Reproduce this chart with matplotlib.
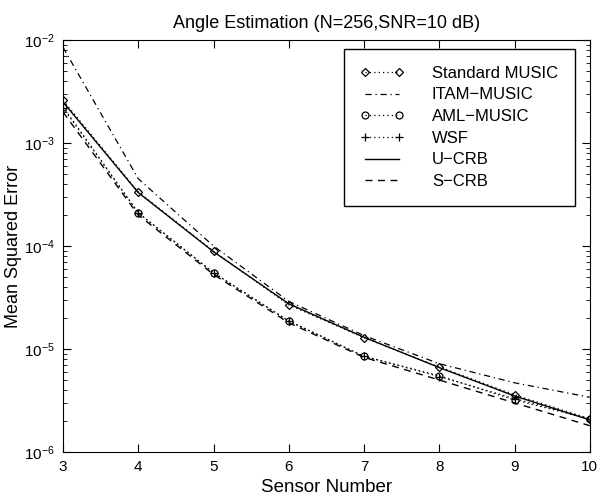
import numpy as np
import matplotlib.pyplot as plt

plt.rcParams['font.family'] = ['Liberation Sans', 'DejaVu Sans']

sensors = np.array([3, 4, 5, 6, 7, 8, 9, 10])

# values
std_music = [2.6e-3, 3.35e-4, 8.9e-5, 2.68e-5, 1.29e-5, 6.7e-6, 3.6e-6, 2.1e-6]
itam_music = [8.5e-3, 4.5e-4, 1.0e-4, 2.9e-5, 1.35e-5, 7.2e-6, 4.7e-6, 3.4e-6]
aml_music = [2.25e-3, 2.1e-4, 5.5e-5, 1.87e-5, 8.5e-6, 5.5e-6, 3.2e-6, 2.1e-6]
wsf = [2.2e-3, 2.1e-4, 5.5e-5, 1.87e-5, 8.5e-6, 5.4e-6, 3.3e-6, 2.1e-6]
u_crb = [2.5e-3, 3.3e-4, 8.8e-5, 2.75e-5, 1.3e-5, 6.6e-6, 3.5e-6, 2.05e-6]
s_crb = [2.0e-3, 2.0e-4, 5.3e-5, 1.8e-5, 8.3e-6, 5.0e-6, 3.0e-6, 1.8e-6]

fig = plt.figure(figsize=(6, 4.94), dpi=100)
ax = fig.add_axes([0.105, 0.085, 0.878, 0.834])

dots = (0, (1, 2.5))
ax.semilogy(sensors, std_music, color='k', ls=dots, marker='D', mfc='none', ms=4, mew=0.9, lw=0.9, label='Standard MUSIC')
ax.semilogy(sensors, itam_music, color='k', ls=(0, (5, 3, 1, 3)), lw=0.9, label='ITAM\u2212MUSIC')
ax.semilogy(sensors, aml_music, color='k', ls=dots, marker='o', mfc='none', ms=5, mew=0.9, lw=0.9, label='AML\u2212MUSIC')
ax.semilogy(sensors, wsf, color='k', ls=dots, marker='+', ms=6, mew=0.9, lw=0.9, label='WSF')
ax.semilogy(sensors, u_crb, 'k-', lw=1, label='U\u2212CRB')
ax.semilogy(sensors, s_crb, color='k', ls=(0, (5, 4)), lw=1, label='S\u2212CRB')

ax.set_xlim(3, 10)
ax.set_ylim(1e-6, 1e-2)
ax.set_xticks(sensors)
ax.tick_params(which='both', direction='in', top=True, right=True, labelsize=11, pad=6)
ax.tick_params(which='major', length=6)
ax.tick_params(which='minor', length=3)
ax.set_xlabel('Sensor Number', fontsize=13.5, labelpad=3)
ax.set_ylabel('Mean Squared Error', fontsize=13, labelpad=1)
ax.set_title('Angle Estimation (N=256,SNR=10 dB)', fontsize=13, pad=9)

leg = ax.legend(loc='upper right', bbox_to_anchor=(0.9715, 0.978), numpoints=2, fontsize=12,
                fancybox=False, edgecolor='k', framealpha=1, handlelength=2.6,
                handletextpad=1.7, borderpad=1.0, labelspacing=0.4, borderaxespad=0)
leg.get_frame().set_linewidth(1)

fig.savefig('out.png', dpi=100)
